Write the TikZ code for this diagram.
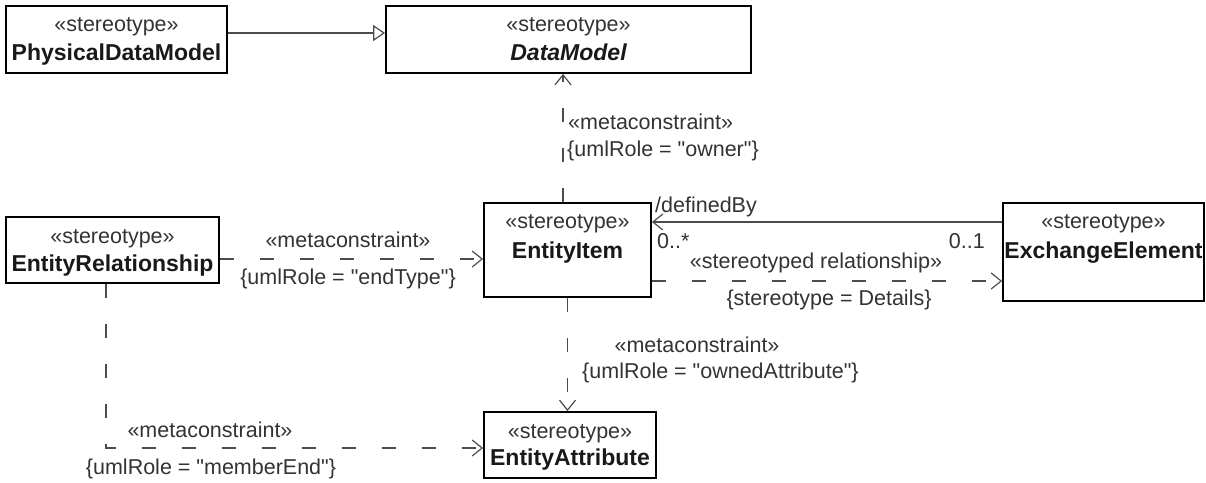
\documentclass[tikz,border=0pt]{standalone}
\usepackage{fontspec}
\setmainfont{Liberation Sans}[Ligatures=TeXOff]
\usetikzlibrary{arrows.meta,calc}
\tikzset{
  box/.style={draw=black, line width=1.8pt, fill=white, inner sep=0pt},
  st/.style={font=\fontsize{21.5}{25}\selectfont, text=black!80, anchor=base, inner sep=0pt},
  nm/.style={font=\fontsize{23}{27}\selectfont\bfseries, text=black!90, anchor=base, inner sep=0pt},
  lbl/.style={font=\fontsize{21.5}{25}\selectfont, text=black!80, inner sep=0pt},
  conn/.style={draw=black!70, line width=1.2pt},
  dep/.style={conn, dash pattern=on 14pt off 26pt, -{Straight Barb[length=10pt,width=16pt,line width=1.2pt]}},
  nav/.style={conn, -{Straight Barb[length=10pt,width=16pt,line width=1.2pt]}},
  gen/.style={conn, -{Triangle[open,length=12pt,width=16pt,fill=white,line width=1.2pt]}},
}
\begin{document}
\begin{tikzpicture}[x=1pt,y=-1pt]
\useasboundingbox[fill=white] (0,0) rectangle (1206,482);
% boxes
\node[box, minimum width=221pt, minimum height=67pt] (PDM) at (116.5,39.5) {};
\node[box, minimum width=365pt, minimum height=67pt] (DM) at (568.5,39.5) {};
\node[box, minimum width=167pt, minimum height=94pt] (EI) at (567.5,250) {};
\node[box, minimum width=201pt, minimum height=98pt] (EE) at (1103.5,252) {};
\node[box, minimum width=213pt, minimum height=66pt] (ER) at (112.5,250) {};
\node[box, minimum width=172pt, minimum height=66pt] (EA) at (570,445) {};
% titles
\node[st] (PDMs) at ([yshift=-26pt]PDM.north) {«stereotype»};
\node[nm] (PDMn) at ([yshift=-55pt]PDM.north) {PhysicalDataModel};
\node[st] (DMs) at ([yshift=-26pt]DM.north) {«stereotype»};
\node[nm, font=\fontsize{23}{27}\selectfont\bfseries\itshape] (DMn) at ([yshift=-55pt]DM.north) {DataModel};
\node[st] (EIs) at ([yshift=-26pt]EI.north) {«stereotype»};
\node[nm] (EIn) at ([yshift=-56pt]EI.north) {EntityItem};
\node[st] (EEs) at ([yshift=-26pt]EE.north) {«stereotype»};
\node[nm] (EEn) at ([yshift=-56pt]EE.north) {ExchangeElement};
\node[st] (ERs) at ([yshift=-27pt]ER.north) {«stereotype»};
\node[nm] (ERn) at ([yshift=-55pt]ER.north) {EntityRelationship};
\node[st] (EAs) at ([yshift=-27pt]EA.north) {«stereotype»};
\node[nm] (EAn) at ([yshift=-54pt]EA.north) {EntityAttribute};
% generalization
\draw[gen] ([yshift=6.5pt]PDM.east) -- ([yshift=6.5pt]DM.west);
% owner
\coordinate (c1) at ([xshift=-4.5pt]EI.north);
\draw[dep] (c1) -- (c1 |- DM.south);
\node[lbl, anchor=west] (l1) at (568,122) {«metaconstraint»};
\node[lbl, anchor=west] (l2) at (567,151) {\{umlRole = "owner"\}};
% definedBy
\coordinate (c2) at ([yshift=30pt]EE.west);
\draw[nav] (c2) -- (c2 -| EI.east);
\node[lbl, anchor=west] (l3) at (655,207) {/definedBy};
\node[lbl, anchor=west] (l4) at (657,241) {0..*};
\node[lbl, anchor=east] (l5) at (985,241) {0..1};
% stereotyped relationship
\coordinate (c3) at ([yshift=-31pt]EI.east);
\draw[dep] (c3) -- (c3 -| EE.west);
\node[lbl] (l6) at (816,263) {«stereotyped relationship»};
\node[lbl] (l7) at (829,300) {\{stereotype = Details\}};
% endType
\coordinate (c4) at ([yshift=-9pt]ER.east);
\draw[dep] (c4) -- (c4 -| EI.west);
\node[lbl] (l8) at (348,240) {«metaconstraint»};
\node[lbl] (l9) at (348,279) {\{umlRole = "endType"\}};
% ownedAttribute
\draw[dep] (EI.south) -- (EI.south |- EA.north);
\node[lbl] (l10) at (697,345) {«metaconstraint»};
\node[lbl, anchor=west] (l11) at (582,373) {\{umlRole = "ownedAttribute"\}};
% memberEnd
\coordinate (c5) at ([xshift=-6.5pt]ER.south);
\coordinate (c6) at ([yshift=-3pt]EA.west);
\draw[dep] (c5) -- (c5 |- c6) -- (c6);
\node[lbl] (l12) at (210,430) {«metaconstraint»};
\node[lbl] (l13) at (211,469) {\{umlRole = "memberEnd"\}};
\end{tikzpicture}
\end{document}
